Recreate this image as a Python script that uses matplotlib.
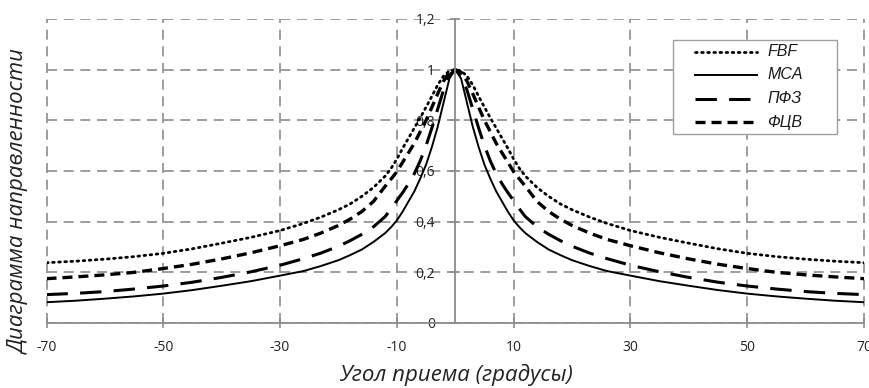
import matplotlib
matplotlib.use("Agg")
from matplotlib import pyplot as plt
from matplotlib.lines import Line2D
from matplotlib.patches import Rectangle

plt.rcParams["axes.unicode_minus"] = False

# half-profile (the chart is symmetric about 0)
half_angles = [0, 1, 2, 3, 4, 5, 6, 7, 8, 9, 10, 11, 12, 14, 16, 18, 20, 23, 26, 30,
               35, 40, 45, 50, 55, 60, 65, 70]
fbf_half = [1.0, 0.995, 0.975, 0.94, 0.895, 0.852, 0.81, 0.77, 0.73, 0.69, 0.647, 0.61, 0.58,
            0.535, 0.5, 0.47, 0.447, 0.418, 0.393, 0.365, 0.338, 0.315, 0.293, 0.275, 0.262,
            0.252, 0.244, 0.238]
mca_half = [1.0, 0.965, 0.87, 0.775, 0.695, 0.625, 0.57, 0.52, 0.48, 0.44, 0.405, 0.378, 0.355,
            0.32, 0.29, 0.268, 0.248, 0.225, 0.205, 0.187, 0.165, 0.147, 0.13, 0.116, 0.105,
            0.096, 0.088, 0.082]
pfz_half = [1.0, 0.978, 0.92, 0.845, 0.77, 0.70, 0.64, 0.59, 0.55, 0.515, 0.483, 0.45, 0.42,
            0.38, 0.35, 0.325, 0.303, 0.276, 0.254, 0.228, 0.202, 0.18, 0.161, 0.146, 0.134,
            0.124, 0.117, 0.112]
fcv_half = [1.0, 0.99, 0.955, 0.905, 0.852, 0.80, 0.755, 0.71, 0.672, 0.635, 0.597, 0.568, 0.54,
            0.48, 0.44, 0.41, 0.385, 0.355, 0.33, 0.305, 0.277, 0.253, 0.232, 0.215, 0.2,
            0.19, 0.182, 0.175]

angles = [-a for a in half_angles[::-1][:-1]] + half_angles


def mirror(half):
    return half[::-1][:-1] + half


fbf = mirror(fbf_half)
mca = mirror(mca_half)
pfz = mirror(pfz_half)
fcv = mirror(fcv_half)

x_ticks = [-70, -50, -30, -10, 10, 30, 50, 70]
y_ticks = [0, 0.2, 0.4, 0.6, 0.8, 1.0, 1.2]
y_labels = ["0", "0,2", "0,4", "0,6", "0,8", "1", "1,2"]
names = ["FBF", "MCA", "ПФЗ", "ФЦВ"]

grid_col = "#8c8c8c"
styles = [
    dict(color="black", lw=2.0, linestyle=(0, (0.6, 1.6)), dash_capstyle="round"),
    dict(color="black", lw=1.4, linestyle="-"),
    dict(color="black", lw=2.2, linestyle=(0, (7, 4))),
    dict(color="black", lw=2.4, linestyle=(0, (3, 1.8))),
]

fig = plt.figure(figsize=(8.69, 3.88), dpi=100)
L, R, T, B = 46.5, 864.0, 19.0, 323.0
ax = fig.add_axes([L / 869, 1 - B / 388, (R - L) / 869, (B - T) / 388])

# curves
for series, st in zip([fbf, mca, pfz, fcv], styles):
    ax.plot(angles, series, **st)

ax.set_xlim(-70, 70)
ax.set_ylim(0, 1.2)
ax.set_xticks(x_ticks)
ax.set_yticks(y_ticks)
ax.set_yticklabels(y_labels)

# grid
ax.grid(True, color=grid_col, linestyle=(0, (6, 4)), lw=1.2)
for gl in ax.get_xgridlines() + ax.get_ygridlines():
    gl.set_clip_on(False)
ax.set_axisbelow(True)

# axis lines: y axis through x=0, x axis at y=0
for s in ["top", "right"]:
    ax.spines[s].set_visible(False)
ax.spines["left"].set_position(("data", 0))
for s in ["left", "bottom"]:
    ax.spines[s].set_color(grid_col)
    ax.spines[s].set_linewidth(1.3)
ax.tick_params(axis="x", direction="inout", length=7, width=1.2, color=grid_col,
               labelsize=10, labelcolor="#222222", pad=9)
ax.tick_params(axis="y", direction="inout", length=7, width=1.2, color=grid_col,
               labelsize=10, labelcolor="#222222", pad=11)
for lab in ax.get_xticklabels() + ax.get_yticklabels():
    lab.set_fontfamily("Open Sans")

# axis titles
fig.text(455.5 / 869, 1 - 375 / 388, "Угол приема (градусы)", fontsize=16, style="italic",
         family="Open Sans", color="#222222", ha="center", va="center")
fig.text(19 / 869, 1 - 201 / 388, "Диаграмма направленности", rotation=90, fontsize=16,
         style="italic", family="Open Sans", color="#222222", ha="center", va="center")


# legend drawn by hand to match the box proportions
def px(x, y):
    return (x - L) / (R - L), (B - y) / (B - T)


x0, y0 = px(673, 133.5)
x1, y1 = px(836.5, 39.5)
ax.add_patch(Rectangle((x0, y0), x1 - x0, y1 - y0, transform=ax.transAxes, facecolor="white",
                       edgecolor="#a0a0a0", lw=1.0, zorder=5, clip_on=False))
rows = [51.7, 74.5, 98.5, 122.0]
for name, st, ry in zip(names, styles, rows):
    lx0, ly = px(695, ry)
    lx1, _ = px(757, ry)
    ax.add_line(Line2D([lx0, lx1], [ly, ly], transform=ax.transAxes, zorder=6, **st))
    tx, _ = px(767, ry)
    ax.text(tx, ly, name, transform=ax.transAxes, ha="left", va="center", zorder=6,
            family="Liberation Sans", style="italic", fontsize=11.5, color="#1a1a1a")

fig.savefig("out.png", dpi=100)
